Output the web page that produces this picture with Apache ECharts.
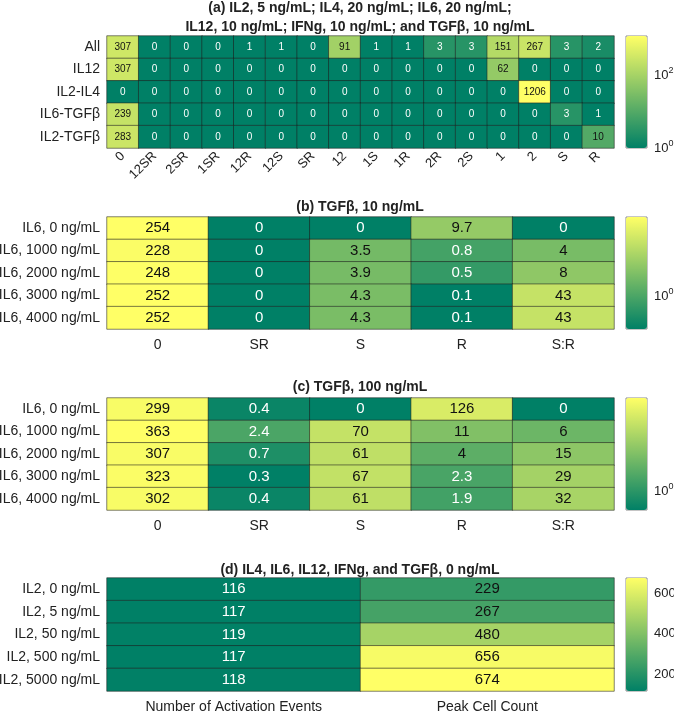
<!DOCTYPE html>
<html>
<head>
<meta charset="utf-8">
<script src="https://cdn.jsdelivr.net/npm/echarts@6/dist/echarts.min.js"></script>
<style>
  html, body { margin: 0; padding: 0; background: #fff; }
  #chart { width: 674px; height: 711px; }
</style>
</head>
<body>
<div id="chart"></div>
<script>
// panel (a)
var aRows = ['All', 'IL12', 'IL2-IL4', 'IL6-TGFβ', 'IL2-TGFβ'];
var aCols = ['0', '12SR', '2SR', '1SR', '12R', '12S', 'SR', '12', '1S', '1R', '2R', '2S', '1', '2', 'S', 'R'];
var aAll     = [307, 0, 0, 0, 1, 1, 0, 91, 1, 1, 3, 3, 151, 267, 3, 2];
var aIL12    = [307, 0, 0, 0, 0, 0, 0, 0, 0, 0, 0, 0, 62, 0, 0, 0];
var aIL2IL4  = [0, 0, 0, 0, 0, 0, 0, 0, 0, 0, 0, 0, 0, 1206, 0, 0];
var aIL6TGFb = [239, 0, 0, 0, 0, 0, 0, 0, 0, 0, 0, 0, 0, 0, 3, 1];
var aIL2TGFb = [283, 0, 0, 0, 0, 0, 0, 0, 0, 0, 0, 0, 0, 0, 0, 10];

// panels (b) and (c)
var il6Rows = ['IL6, 0 ng/mL', 'IL6, 1000 ng/mL', 'IL6, 2000 ng/mL', 'IL6, 3000 ng/mL', 'IL6, 4000 ng/mL'];
var bcCols = ['0', 'SR', 'S', 'R', 'S:R'];
var b0    = [254, 0, 0, 9.7, 0];
var b1000 = [228, 0, 3.5, 0.8, 4];
var b2000 = [248, 0, 3.9, 0.5, 8];
var b3000 = [252, 0, 4.3, 0.1, 43];
var b4000 = [252, 0, 4.3, 0.1, 43];
var c0    = [299, 0.4, 0, 126, 0];
var c1000 = [363, 2.4, 70, 11, 6];
var c2000 = [307, 0.7, 61, 4, 15];
var c3000 = [323, 0.3, 67, 2.3, 29];
var c4000 = [302, 0.4, 61, 1.9, 32];

// panel (d)
var il2Rows = ['IL2, 0 ng/mL', 'IL2, 5 ng/mL', 'IL2, 50 ng/mL', 'IL2, 500 ng/mL', 'IL2, 5000 ng/mL'];
var dCols = ['Number of Activation Events', 'Peak Cell Count'];
var dEvents = [116, 117, 119, 117, 118];
var dPeak = [229, 267, 480, 656, 674];

var titles = [
    '(a) IL2, 5 ng/mL; IL4, 20 ng/mL; IL6, 20 ng/mL;\nIL12, 10 ng/mL; IFNg, 10 ng/mL; and TGFβ, 10 ng/mL',
    '(b) TGFβ, 10 ng/mL',
    '(c) TGFβ, 100 ng/mL',
    '(d) IL4, IL6, IL12, IFNg, and TGFβ, 0 ng/mL'
];

var FONT = 'Liberation Sans, Arial, sans-serif';
var LOW = '#008066', HIGH = '#FFFF66';

var panels = [
    {rows: aRows, cols: aCols, matrix: [aAll, aIL12, aIL2IL4, aIL6TGFb, aIL2TGFb], log: true,
        top: 36, height: 112, titleTop: -2, cellFont: 10, rotate: 45, cbLabels: [0, 2], dark: 0.3},
    {rows: il6Rows, cols: bcCols, matrix: [b0, b1000, b2000, b3000, b4000], log: true,
        top: 217, height: 112, titleTop: 197, cellFont: 15, rotate: 0, cbLabels: [0], dark: 0.3},
    {rows: il6Rows, cols: bcCols, matrix: [c0, c1000, c2000, c3000, c4000], log: true,
        top: 398, height: 112, titleTop: 377, cellFont: 15, rotate: 0, cbLabels: [0], dark: 0.3},
    {rows: il2Rows, cols: dCols, matrix: dEvents.map(function (v, i) { return [v, dPeak[i]]; }), log: false,
        top: 578, height: 113, titleTop: 560, cellFont: 15, rotate: 0, cbLabels: [200, 400, 600], dark: 0.12}
];

var option = {
    backgroundColor: '#fff',
    animation: false,
    textStyle: {fontFamily: FONT},
    title: [], grid: [], xAxis: [], yAxis: [], visualMap: [], series: []
};

panels.forEach(function (p, i) {
    var flat = [];
    p.matrix.forEach(function (row) { flat = flat.concat(row); });
    var pos = flat.filter(function (v) { return v > 0; });
    var vmin = Math.min.apply(null, pos), vmax = Math.max.apply(null, pos);
    var cmin = p.log ? Math.log10(vmin) : vmin;
    var cmax = p.log ? Math.log10(vmax) : vmax;

    var data = [];
    p.matrix.forEach(function (row, r) {
        row.forEach(function (v, c) {
            var cv = p.log ? Math.log10(Math.max(v, vmin)) : v;
            var t = (cv - cmin) / (cmax - cmin);
            data.push({
                value: [c, r, cv],
                raw: v,
                label: {color: t < p.dark ? '#fff' : '#111'}
            });
        });
    });

    option.title.push({
        text: titles[i], left: 360, textAlign: 'center', top: p.titleTop, padding: 0,
        textStyle: {fontFamily: FONT, fontSize: 14, fontWeight: 'bold', color: '#222', lineHeight: 19.5}
    });

    // heatmap grid
    option.grid.push({left: 107, width: 507, top: p.top, height: p.height, outerBoundsMode: 'none', containLabel: false});
    option.xAxis.push({
        gridIndex: 2 * i, type: 'category', data: p.cols,
        axisLine: {show: false}, axisTick: {show: false}, splitArea: {show: false},
        axisLabel: {fontSize: p.rotate ? 13 : 14, color: '#222', rotate: p.rotate, margin: p.rotate ? 6 : 9, interval: 0}
    });
    option.yAxis.push({
        gridIndex: 2 * i, type: 'category', data: p.rows, inverse: true,
        axisLine: {show: false}, axisTick: {show: false},
        axisLabel: {fontSize: 14, color: '#222', margin: 7}
    });

    // colorbar grid (ticks only)
    option.grid.push({left: 626, width: 21, top: p.top, height: p.height, outerBoundsMode: 'none', containLabel: false,
        show: true, borderColor: '#8c8c8c', borderWidth: 1});
    option.xAxis.push({gridIndex: 2 * i + 1, type: 'value', show: false, min: 0, max: 1});
    option.yAxis.push({
        gridIndex: 2 * i + 1, type: 'value', position: 'right', min: cmin, max: cmax,
        splitLine: {show: false}, axisLine: {show: false},
        axisTick: {show: false},
        axisLabel: {
            showMinLabel: p.log, showMaxLabel: false, margin: 7, fontSize: 13, color: '#222',
            formatter: function (v) {
                var hit = p.cbLabels.some(function (k) { return Math.abs(k - v) < 1e-6; });
                if (!hit) return '';
                return p.log ? '10{sup|' + Math.round(v) + '}' : String(Math.round(v));
            },
            rich: {sup: {fontSize: 9, padding: [0, 0, 9, 0]}}
        }
    });

    option.visualMap.push({
        type: 'continuous', seriesIndex: i, dimension: 2, min: cmin, max: cmax,
        calculable: false, show: true, orient: 'vertical', left: 626, top: p.top,
        itemWidth: 21, itemHeight: p.height, padding: 0, text: null, textGap: 0,
        inRange: {color: [LOW, HIGH]}
    });

    option.series.push({
        type: 'heatmap', xAxisIndex: 2 * i, yAxisIndex: 2 * i, data: data,
        itemStyle: {borderColor: 'rgba(30,30,30,0.55)', borderWidth: 1},
        label: {
            show: true, fontSize: p.cellFont, fontFamily: FONT,
            formatter: function (q) { return String(q.data.raw); }
        },
        emphasis: {disabled: true}
    });
});

var chart = echarts.init(document.getElementById('chart'), null, {renderer: 'canvas'});
chart.setOption(option);
</script>
</body>
</html>
